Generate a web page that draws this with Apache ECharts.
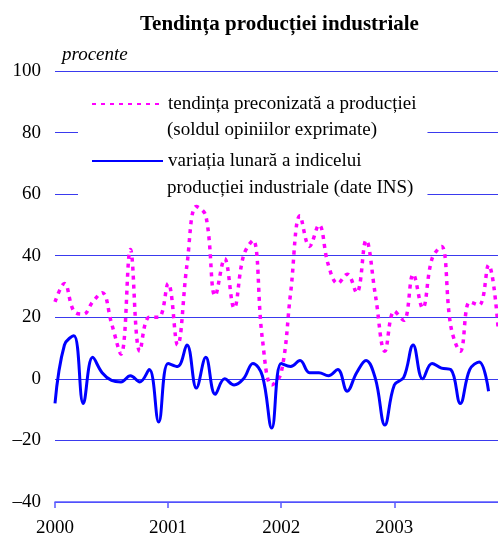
<!DOCTYPE html>
<html>
<head>
<meta charset="utf-8">
<script src="https://cdn.jsdelivr.net/npm/echarts@6/dist/echarts.min.js"></script>
<style>
html,body{margin:0;padding:0;background:#fff;}
#c{width:498px;height:538px;}
</style>
</head>
<body>
<div id="c"></div>
<script>
var categories = [
 '2000-01','2000-02','2000-03','2000-04','2000-05','2000-06','2000-07','2000-08','2000-09','2000-10','2000-11','2000-12',
 '2001-01','2001-02','2001-03','2001-04','2001-05','2001-06','2001-07','2001-08','2001-09','2001-10','2001-11','2001-12',
 '2002-01','2002-02','2002-03','2002-04','2002-05','2002-06','2002-07','2002-08','2002-09','2002-10','2002-11','2002-12',
 '2003-01','2003-02','2003-03','2003-04','2003-05','2003-06','2003-07','2003-08','2003-09','2003-10','2003-11','2003-12'
];
var yearLabels = ['2000','2001','2002','2003'];
var seriesNames = ['tendința preconizată a producției', 'variația lunară a indicelui'];
var legendSecondLines = ['(soldul opiniilor exprimate)', 'producției industriale (date INS)'];
var tendinta = [25,31,22,21,25,28,18,8,42,9,20,20,
                31,11,37,56,53,27,39,23,40,45,13,-2,
                2,28,53,43,50,37,31,34,28,45,27,9,
                22,19,34,23,39,43,17,9,25,24,37,17];
var variatia = [-8,11,14,-8,7,2,-0.5,-1,1,-1,3,-14,
                5,4,11,-3,7,-5,0,-2,0,5,1,-16,
                5,4,6,2,2,1,3,-4,2,6,0,-15,
                -2,0.5,11,0,5,3.5,3,-8,3,5.5,-4];
var yTicks = {min:-40, max:100, interval:20};

var chart = echarts.init(document.getElementById('c'));
var serif = '"Liberation Serif", "Times New Roman", serif';
var gridColor = '#3a3aee';
chart.setOption({
  animation:false,
  backgroundColor:'#ffffff',
  title:{
    text:'Tendința producției industriale',
    left:135, top:9,
    textStyle:{fontFamily:serif, fontWeight:'bold', fontSize:21, color:'#000'}
  },
  grid:{left:55, right:0, top:71, bottom:34, containLabel:false},
  legend:{
    orient:'vertical',
    left:78, top:86,
    padding:[8,11,27,13],
    itemGap:37,
    itemWidth:71, itemHeight:14,
    backgroundColor:'#ffffff',
    selectedMode:false,
    data:seriesNames,
    itemStyle:{opacity:0, borderWidth:0},
    textStyle:{fontFamily:serif, fontSize:19, color:'#000', lineHeight:20}
  },
  graphic:[
    {type:'text', left:167, top:121, z:100, style:{text:legendSecondLines[0], font:'19px "Liberation Serif", serif', fill:'#000'}},
    {type:'text', left:167, top:179, z:100, style:{text:legendSecondLines[1], font:'19px "Liberation Serif", serif', fill:'#000'}}
  ],
  xAxis:{
    type:'category',
    data:categories,
    boundaryGap:false,
    axisLine:{onZero:false, lineStyle:{color:'#5a5aff', width:1.5}},
    axisTick:{show:true, length:6, interval:function(i){return i%12===0;}, lineStyle:{color:'#5a5aff', width:1.5}},
    axisLabel:{
      interval:function(i){return i%12===0;},
      formatter:function(v,i){return yearLabels[Math.floor(i/12)];},
      fontFamily:serif, fontSize:19, color:'#000', margin:17
    },
    splitLine:{show:false}
  },
  yAxis:{
    type:'value',
    min:yTicks.min, max:yTicks.max, interval:yTicks.interval,
    name:'procente',
    nameLocation:'end',
    nameGap:7,
    nameTextStyle:{fontFamily:serif, fontStyle:'italic', fontSize:19, color:'#000', align:'left', padding:[0,0,0,7]},
    axisLine:{show:false},
    axisTick:{show:false},
    axisLabel:{
      formatter:function(v){return v<0 ? '\u2013'+Math.abs(v) : String(v);},
      fontFamily:serif, fontSize:19, color:'#000', margin:14
    },
    splitLine:{show:true, lineStyle:{color:gridColor, width:1}}
  },
  series:[
    {
      name:seriesNames[0], type:'line', data:tendinta, smooth:0.4, symbol:'none',
      lineStyle:{color:'#ff00ff', width:3.5, type:[4,5]}, itemStyle:{color:'#ff00ff'}
    },
    {
      name:seriesNames[1], type:'line', data:variatia, smooth:0.4, symbol:'none',
      lineStyle:{color:'#0000ff', width:3}, itemStyle:{color:'#0000ff'}
    }
  ]
});
</script>
</body>
</html>
